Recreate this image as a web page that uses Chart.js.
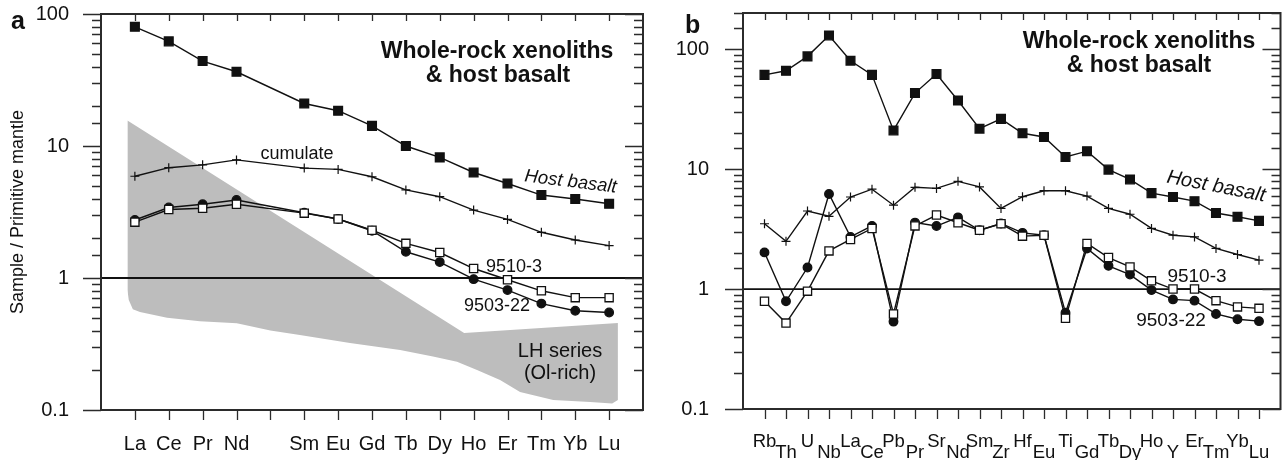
<!DOCTYPE html>
<html>
<head>
<meta charset="utf-8">
<script src="https://cdn.jsdelivr.net/npm/chart.js@4.4.1/dist/chart.umd.min.js"></script>
<style>
  html, body { margin: 0; padding: 0; background: #fff; }
  #wrap { position: relative; width: 1288px; height: 460px; }
  #reeChart { position: absolute; left: 0; top: 0; }
  #spiderChart { position: absolute; left: 660px; top: 0; }
</style>
</head>
<body>
<div id="wrap">
  <canvas id="reeChart" width="660" height="460"></canvas>
  <canvas id="spiderChart" width="628" height="460"></canvas>
</div>
<script>
// ---- panel a : REE pattern (Pm slot kept empty) ----
const reeLabels = ['La', 'Ce', 'Pr', 'Nd', '', 'Sm', 'Eu', 'Gd', 'Tb', 'Dy', 'Ho', 'Er', 'Tm', 'Yb', 'Lu'];
const reeHost = [80, 62, 44, 36.5, null, 21, 18.5, 14.2, 10, 8.2, 6.3, 5.2, 4.25, 3.97, 3.65];
const reeCumulate = [5.9, 6.85, 7.2, 7.85, null, 6.8, 6.65, 5.85, 4.65, 4.13, 3.27, 2.78, 2.22, 1.94, 1.76];
const ree9510 = [2.65, 3.3, 3.38, 3.62, null, 3.1, 2.8, 2.3, 1.83, 1.56, 1.18, 0.97, 0.8, 0.71, 0.71];
const ree9503 = [2.75, 3.42, 3.62, 3.9, null, 3.12, 2.8, 2.28, 1.58, 1.32, 0.98, 0.81, 0.64, 0.565, 0.548];

// LH series envelope (x in element-slot units, La = 0)
const lhUpperX = [-0.22, 9.72, 14.26];
const lhUpperY = [15.6, 0.383, 0.456];
const lhLowerX = [-0.22, -0.18, -0.06, 0.15, 0.95, 1.92, 3.01, 4.0, 4.87, 6.35, 7.83, 8.8, 9.51, 10.1, 10.78, 11.37, 12.35, 13.44, 14.09, 14.26];
const lhLowerY = [0.81, 0.68, 0.58, 0.552, 0.5, 0.47, 0.454, 0.4, 0.37, 0.322, 0.285, 0.254, 0.232, 0.201, 0.169, 0.137, 0.119, 0.115, 0.112, 0.119];

// ---- panel b : extended trace element pattern ----
const spiderLabels = ['Rb', 'Th', 'U', 'Nb', 'La', 'Ce', 'Pb', 'Pr', 'Sr', 'Nd', 'Sm', 'Zr', 'Hf', 'Eu', 'Ti', 'Gd', 'Tb', 'Dy', 'Ho', 'Y', 'Er', 'Tm', 'Yb', 'Lu'];
const spiderHost = [61, 66, 87, 130, 80, 61, 21, 43, 62, 37.3, 21.7, 26.2, 19.9, 18.5, 12.6, 14.1, 9.9, 8.2, 6.3, 5.85, 5.4, 4.3, 4.0, 3.7];
const spiderCumulate = [3.5, 2.5, 4.47, 4.04, 5.85, 6.8, 5.0, 7.05, 6.9, 7.9, 7.1, 4.7, 5.88, 6.6, 6.6, 5.95, 4.7, 4.2, 3.2, 2.81, 2.72, 2.18, 1.94, 1.74];
const spider9503 = [2.02, 0.79, 1.51, 6.2, 2.72, 3.36, 0.535, 3.58, 3.35, 3.96, 3.09, 3.52, 2.94, 2.81, 0.635, 2.18, 1.56, 1.32, 0.98, 0.82, 0.8, 0.62, 0.56, 0.54];
const spider9510 = [0.79, 0.52, 0.96, 2.08, 2.59, 3.2, 0.62, 3.36, 4.14, 3.57, 3.09, 3.5, 2.76, 2.81, 0.57, 2.4, 1.83, 1.53, 1.17, 1.0, 1.0, 0.8, 0.71, 0.69];

const unityValue = 1;

const FONT = "'Liberation Sans', Arial, Helvetica, sans-serif";
Chart.defaults.font.family = FONT;
Chart.defaults.color = '#111';

function toPoints(values) {
    return values.map((v, i) => ({x: i, y: v})).filter(p => p.y !== null);
}

function zip(xs, ys) {
    return xs.map((x, i) => ({x: x, y: ys[i]}));
}

function isDecade(v) {
    const l = Math.log10(v);
    return Math.abs(l - Math.round(l)) < 1e-6;
}

// fixed axis boxes, no extra label padding around the plot
function fixBox(size) {
    return s => {
        if (s.isHorizontal()) s.height = size; else s.width = size;
        s.paddingTop = 0;
        s.paddingBottom = 0;
        s.paddingLeft = 0;
        s.paddingRight = 0;
    };
}

// marker styles
const openSquare = {pointStyle: 'rect', pointRadius: 5.8, pointBackgroundColor: '#fff', order: 0};
const blackCircle = {pointStyle: 'circle', pointRadius: 4.3, pointBackgroundColor: '#111', order: 1};
const plusMark = {pointStyle: 'cross', pointRadius: 4.5, pointBorderWidth: 1.2, order: 2};
const blackSquare = {pointStyle: 'rect', pointRadius: 6.2, pointBackgroundColor: '#111', order: 3};

function series(label, values, style) {
    return Object.assign({
        label: label,
        data: toPoints(values),
        borderColor: '#111',
        borderWidth: 1.4,
        pointBorderColor: '#111',
        pointBorderWidth: 1.3,
        fill: false,
        tension: 0
    }, style);
}

function unityLine(xMin, xMax) {
    return {
        label: 'PM = 1',
        data: [{x: xMin, y: unityValue}, {x: xMax, y: unityValue}],
        borderColor: '#111',
        borderWidth: 1.8,
        pointRadius: 0,
        fill: false,
        order: 5
    };
}

// frame with inward/outward tick marks on all four sides
const frameTicks = {
    id: 'frameTicks',
    afterDraw(chart, args, opts) {
        const {ctx, chartArea: area, scales: {x, y}} = chart;
        ctx.save();
        ctx.strokeStyle = '#2b2b2b';
        ctx.lineWidth = 1.3;
        ctx.beginPath();
        opts.categories.forEach((c, i) => {
            const px = Math.round(x.getPixelForValue(i)) + 0.5;
            ctx.moveTo(px, area.top);
            ctx.lineTo(px, area.top + 7);
            ctx.moveTo(px, area.bottom);
            ctx.lineTo(px, area.bottom + 10);
        });
        y.ticks.forEach(t => {
            const py = Math.round(y.getPixelForValue(t.value)) + 0.5;
            const len = isDecade(t.value) ? 18 : 9;
            ctx.moveTo(area.left - len, py);
            ctx.lineTo(area.left, py);
            ctx.moveTo(area.right - len, py);
            ctx.lineTo(area.right, py);
        });
        ctx.stroke();
        ctx.lineWidth = 2;
        ctx.strokeRect(area.left, area.top, area.width, area.height);
        ctx.restore();
    }
};

// free text labels
const notes = {
    id: 'notes',
    afterDraw(chart, args, opts) {
        const ctx = chart.ctx;
        opts.items.forEach(n => {
            ctx.save();
            ctx.font = n.font;
            ctx.fillStyle = '#111';
            ctx.textAlign = n.align || 'center';
            ctx.textBaseline = 'alphabetic';
            ctx.translate(n.x, n.y);
            if (n.angle) ctx.rotate(n.angle * Math.PI / 180);
            ctx.fillText(n.text, 0, 0);
            ctx.restore();
        });
    }
};

// ========================================
// a - REE
// ========================================
new Chart(document.getElementById('reeChart'), {
    type: 'line',
    data: {
        datasets: [
            series('9510-3', ree9510, openSquare),
            series('9503-22', ree9503, blackCircle),
            series('cumulate', reeCumulate, plusMark),
            series('Host basalt', reeHost, blackSquare),
            unityLine(-1, 15),
            {
                label: 'LH lower',
                data: zip(lhLowerX, lhLowerY),
                borderWidth: 0,
                borderColor: 'rgba(0,0,0,0)',
                pointRadius: 0,
                fill: false,
                order: 10
            },
            {
                label: 'LH series (Ol-rich)',
                data: zip(lhUpperX, lhUpperY),
                borderWidth: 0,
                borderColor: 'rgba(0,0,0,0)',
                backgroundColor: '#bdbdbd',
                pointRadius: 0,
                fill: '-1',
                order: 9
            }
        ]
    },
    options: {
        responsive: false,
        animation: false,
        layout: {padding: {top: 14, right: 17, left: 0, bottom: 0}},
        plugins: {
            legend: {display: false},
            tooltip: {enabled: false},
            frameTicks: {categories: reeLabels},
            notes: {
                items: [
                    {text: 'a', x: 11, y: 29, font: 'bold 25px ' + FONT, align: 'left'},
                    {text: 'Whole-rock xenoliths', x: 497, y: 58, font: 'bold 23px ' + FONT},
                    {text: '& host basalt', x: 498, y: 82, font: 'bold 23px ' + FONT},
                    {text: 'Host basalt', x: 570, y: 187, font: 'italic 18.5px ' + FONT, angle: 7},
                    {text: 'cumulate', x: 297, y: 159, font: '18px ' + FONT},
                    {text: '9510-3', x: 514, y: 272, font: '18px ' + FONT},
                    {text: '9503-22', x: 497, y: 311, font: '18px ' + FONT},
                    {text: 'LH series', x: 560, y: 357, font: '20px ' + FONT},
                    {text: '(Ol-rich)', x: 560, y: 379, font: '20px ' + FONT}
                ]
            }
        },
        scales: {
            x: {
                type: 'linear',
                min: -1,
                max: 15,
                grid: {display: false},
                border: {display: false},
                afterFit: fixBox(50),
                ticks: {
                    stepSize: 1,
                    autoSkip: false,
                    maxRotation: 0,
                    padding: 14,
                    font: {size: 20},
                    callback: v => reeLabels[v] || ''
                }
            },
            y: {
                type: 'logarithmic',
                min: 0.1,
                max: 100,
                grid: {display: false},
                border: {display: false},
                afterFit: fixBox(101),
                title: {
                    display: true,
                    text: 'Sample / Primitive mantle',
                    font: {size: 18},
                    padding: {top: 7, bottom: 0}
                },
                ticks: {
                    autoSkip: false,
                    padding: 24,
                    font: {size: 20},
                    callback: v => (isDecade(v) ? String(v) : '')
                }
            }
        }
    },
    plugins: [frameTicks, notes]
});

// ========================================
// b - extended trace elements
// ========================================
new Chart(document.getElementById('spiderChart'), {
    type: 'line',
    data: {
        datasets: [
            series('9510-3', spider9510, openSquare),
            series('9503-22', spider9503, blackCircle),
            series('cumulate', spiderCumulate, plusMark),
            series('Host basalt', spiderHost, blackSquare),
            unityLine(-1, 24)
        ]
    },
    options: {
        responsive: false,
        animation: false,
        layout: {padding: {top: 13, right: 3, left: 0, bottom: 0}},
        plugins: {
            legend: {display: false},
            tooltip: {enabled: false},
            frameTicks: {categories: spiderLabels},
            notes: {
                items: [
                    {text: 'b', x: 25, y: 33, font: 'bold 25px ' + FONT, align: 'left'},
                    {text: 'Whole-rock xenoliths', x: 479, y: 48, font: 'bold 23px ' + FONT},
                    {text: '& host basalt', x: 479, y: 72, font: 'bold 23px ' + FONT},
                    {text: 'Host basalt', x: 555, y: 192, font: 'italic 20px ' + FONT, angle: 11},
                    {text: '9510-3', x: 537, y: 282, font: '19px ' + FONT},
                    {text: '9503-22', x: 511, y: 326, font: '19px ' + FONT}
                ]
            }
        },
        scales: {
            x: {
                type: 'linear',
                min: -1,
                max: 24,
                grid: {display: false},
                border: {display: false},
                afterFit: fixBox(51),
                ticks: {
                    stepSize: 1,
                    autoSkip: false,
                    maxRotation: 0,
                    padding: 20,
                    font: {size: 18.5, lineHeight: '10.5px'},
                    // alternate rows so neighbouring symbols do not collide
                    callback: v => {
                        const lab = spiderLabels[v];
                        if (!lab) return '';
                        return v % 2 === 0 ? lab : ['', lab];
                    }
                }
            },
            y: {
                type: 'logarithmic',
                min: 0.1,
                max: 200,
                grid: {display: false},
                border: {display: false},
                afterFit: fixBox(83),
                ticks: {
                    autoSkip: false,
                    padding: 26,
                    font: {size: 20},
                    callback: v => (isDecade(v) ? String(v) : '')
                }
            }
        }
    },
    plugins: [frameTicks, notes]
});
</script>
</body>
</html>
